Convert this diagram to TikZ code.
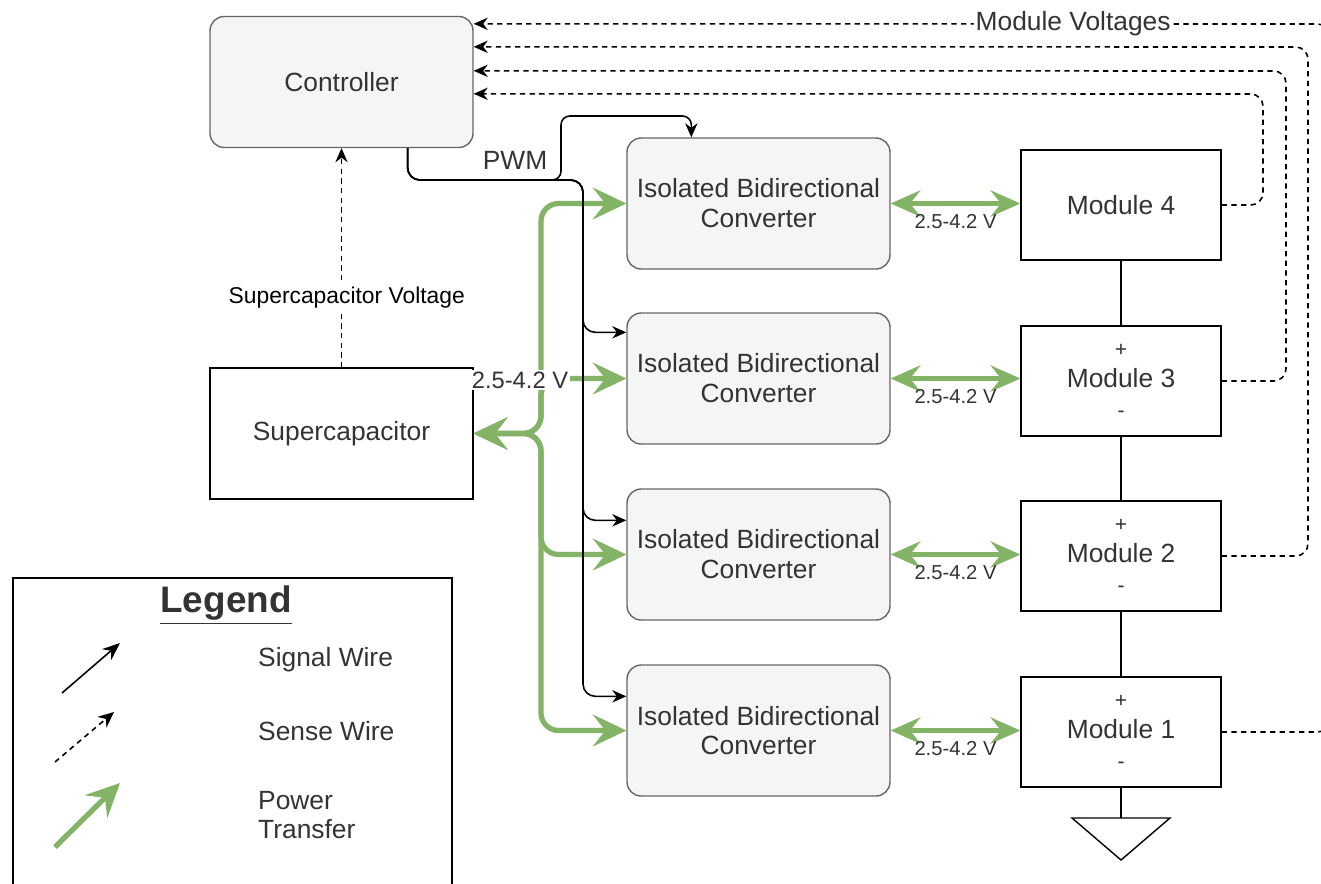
\documentclass[tikz,border=0pt]{standalone}
\usepackage{fontspec}
\setmainfont{Liberation Sans}
\usetikzlibrary{arrows.meta,calc}
\definecolor{Power}{HTML}{82B366}
\definecolor{Panel}{HTML}{F5F5F5}
\definecolor{Edge}{HTML}{666666}
\definecolor{Ink}{HTML}{333333}

\begin{document}
\begin{tikzpicture}[x=0.02cm,y=-0.02cm,
    gbox/.style={draw=Edge,fill=Panel,rounded corners=8pt,line width=0.8pt,minimum width=5.26cm,
      minimum height=2.62cm,align=center,text=Ink,font=\fontsize{15}{17}\selectfont},
    mbox/.style={draw,line width=0.8pt,minimum width=4cm,minimum height=2.2cm,align=center,
      text=Ink,font=\fontsize{15}{17.5}\selectfont},
    sig/.style={-{Stealth[length=8pt,width=7pt]},line width=0.9pt,rounded corners=7pt},
    sense/.style={-{Stealth[length=8pt,width=7pt]},dash pattern=on 3pt off 2.5pt,line width=0.9pt,rounded corners=7pt},
    pwr/.style={Power,line width=3pt,rounded corners=10pt,
      {Stealth[length=19pt,width=18pt,inset=7pt]}-{Stealth[length=19pt,width=18pt,inset=7pt]}},
    link/.style={Power,line width=2.4pt,
      {Stealth[length=17pt,width=15pt,inset=6pt]}-{Stealth[length=17pt,width=15pt,inset=6pt]}},
    lbl/.style={text=Ink,font=\fontsize{15}{17}\selectfont},
    volt/.style={text=Ink,font=\fontsize{11.5}{13}\selectfont,inner sep=1pt}]
  \useasboundingbox (0,0) rectangle (1321,883);
  \clip (0,0) rectangle (1321,883);

  % blocks
  \node[gbox] (ctrl) at (341.5,82) {Controller};
  \node[mbox,minimum width=5.26cm,minimum height=2.62cm] (scap) at (341.5,433.5) {Supercapacitor};
  \node[gbox] (conv4) at (758.5,203.5) {Isolated Bidirectional\\Converter};
  \node[gbox] (conv3) at (758.5,378.5) {Isolated Bidirectional\\Converter};
  \node[gbox] (conv2) at (758.5,554.5) {Isolated Bidirectional\\Converter};
  \node[gbox] (conv1) at (758.5,730.5) {Isolated Bidirectional\\Converter};
  \node[mbox] (mod4) at (1121,205) {Module 4};
  \node[mbox] (mod3) at (1121,381) {{\fontsize{12}{17}\selectfont +}\\Module 3\\{\fontsize{12}{17}\selectfont -}};
  \node[mbox] (mod2) at (1121,556) {{\fontsize{12}{17}\selectfont +}\\Module 2\\{\fontsize{12}{17}\selectfont -}};
  \node[mbox] (mod1) at (1121,732) {{\fontsize{12}{17}\selectfont +}\\Module 1\\{\fontsize{12}{17}\selectfont -}};

  % module string and ground
  \foreach \a/\b in {mod4/mod3,mod3/mod2,mod2/mod1}\draw[line width=0.8pt] (\a.south)--(\b.north);
  \coordinate (gnd) at (1121,818);
  \draw[line width=0.8pt] (mod1.south)--(gnd);
  \draw[line width=0.8pt] ($(gnd)+(-49,0)$)--($(gnd)+(49,0)$)--($(gnd)+(0,42)$)--cycle;

  % power
  \coordinate (bus) at (541,433.5);
  \foreach \c in {conv4,conv3,conv2,conv1}\draw[pwr] (scap.east)--(bus)|-(\c.west);
  \foreach \i in {4,3,2,1}\draw[link] (conv\i.east)--(conv\i.east -| mod\i.west)
    node[midway,below=4pt,volt] {2.5-4.2 V};
  \node[lbl,fill=white,inner sep=1pt,font=\fontsize{13.5}{15}\selectfont] at (520,380) {2.5-4.2 V};

  % PWM signals
  \coordinate (pwm) at ($(ctrl.south)!0.5!(ctrl.south east)$);
  \foreach \c/\d in {conv3/20,conv2/32,conv1/32}\draw[sig] (pwm)|-(583,180)|-($(\c.north west)+(0,\d)$);
  \coordinate (pwmsplit) at (538,180);
  \draw[sig,rounded corners=5pt] (pwmsplit)-|(561,116)-|($(conv4.north west)+(65,0)$);
  \node[lbl] at (515,160) {PWM};

  % sense wires
  \draw[sense] (scap.north)--(ctrl.south)
    node[pos=0.32,xshift=3pt,fill=white,inner sep=1pt,text=black,font=\fontsize{13}{15}\selectfont] {Supercapacitor Voltage};
  \draw[sense] (mod4.east)-|(1263,94)--($(ctrl.north east)+(0,78)$);
  \draw[sense] (mod3.east)-|(1286,71)--($(ctrl.north east)+(0,55)$);
  \draw[sense] (mod2.east)-|(1308,47)--($(ctrl.north east)+(0,31)$);
  \draw[sense] (mod1.east)-|(1330,24)--($(ctrl.north east)+(0,8)$)
    node[pos=0.3,fill=white,inner sep=1pt,lbl] {Module Voltages};

  % legend
  \node[draw,line width=1pt,minimum width=8.78cm,minimum height=6.6cm,anchor=north west] (legend) at (12,577) {};
  \node[font=\bfseries\fontsize{21}{24}\selectfont,text=Ink] at (226,605) {\underline{Legend}};
  \draw[sig,-{Stealth[length=10pt,width=8pt]}] (62,693)--(120,643);
  \draw[sense,-{Stealth[length=9pt,width=8pt]}] (55,762)--(114,712);
  \draw[Power,line width=3pt,-{Stealth[length=19pt,width=18pt,inset=7pt]}] (55,847)--(120,783);
  \node[lbl,anchor=west] at (252,660) {Signal Wire};
  \node[lbl,anchor=west] at (252,731) {Sense Wire};
  \node[lbl,anchor=west,align=left] at (252,815) {Power\\Transfer};
\end{tikzpicture}
\end{document}
